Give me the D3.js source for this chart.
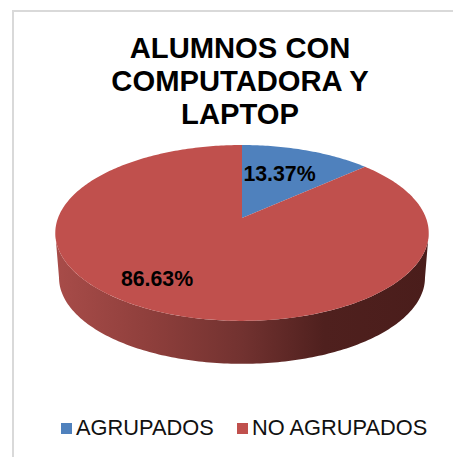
<!DOCTYPE html>
<html>
<head>
<meta charset="utf-8">
<script src="https://cdn.jsdelivr.net/npm/d3@7"></script>
<style>
  html, body { margin: 0; padding: 0; background: #fff; }
  svg { display: block; }
  text { font-family: "Liberation Sans", Arial, sans-serif; }
</style>
</head>
<body>
<div id="chart"></div>
<script>
//chart values
const categories = ["AGRUPADOS", "NO AGRUPADOS"];
const values = [13.37, 86.63];
const colours = ["#4f81bd", "#c0504d"];
const titleLines = ["ALUMNOS CON", "COMPUTADORA Y", "LAPTOP"];

const width = 453;
const height = 457;

//pie geometry, the far side of the disc is squeezed by the perspective
const cx = 242;
const cy = 218;
const radiusX = 184;
const radiusY = 85.4;
const persp = 0.17;
const depth = 45;
const lowerScale = 0.98; //the lower rim is a bit narrower than the top one

const svg = d3.select("#chart").append("svg")
    .attr("width", width)
    .attr("height", height)
    .attr("viewBox", [0, 0, width, height]);

//chart frame, runs off the right and bottom of the picture
svg.append("path")
    .attr("d", `M13,${height}V11H${width}`)
    .attr("fill", "none")
    .attr("stroke", "#d9d9d9")
    .attr("stroke-width", 2);

//angle 0 is at the back of the disc, going clockwise
function project(a, dy = 0, k = 1) {
    const z = Math.cos(a);
    const s = 1 + persp * z;
    return [cx + k * radiusX * Math.sin(a) / s, cy + dy - k * radiusY * z / s];
}

function sampleArc(a0, a1, dy = 0, k = 1) {
    const n = Math.max(2, Math.ceil((a1 - a0) * 60));
    return d3.range(n + 1).map(i => project(a0 + (a1 - a0) * i / n, dy, k));
}

const line = d3.line();
const pie = d3.pie().sort(null).value(d => d);
const slices = pie(values);

//side wall gradient
const defs = svg.append("defs");
const grad = defs.append("linearGradient")
    .attr("id", "wall")
    .attr("gradientUnits", "userSpaceOnUse")
    .attr("x1", 55).attr("x2", 429)
    .attr("y1", 0).attr("y2", 0);
grad.selectAll("stop")
    .data([[0, "#a84c49"], [0.25, "#8f3f3c"], [0.5, "#723230"], [0.72, "#4f201e"], [1, "#4a1d1b"]])
    .join("stop")
    .attr("offset", d => d[0])
    .attr("stop-color", d => d[1]);

//the wall is the front half of the rim, from the widest point on the right to the widest on the left
const widest = Math.acos(-persp);
const front = sampleArc(widest, 2 * Math.PI - widest);
const frontLow = sampleArc(widest, 2 * Math.PI - widest, depth, lowerScale).reverse();
svg.append("path")
    .attr("d", line(front.concat(frontLow)) + "Z")
    .attr("fill", "url(#wall)");

//top of the disc
svg.append("g")
    .selectAll("path")
    .data(slices)
    .join("path")
    .attr("fill", (d, i) => colours[i])
    .attr("d", d => line([[cx, cy]].concat(sampleArc(d.startAngle, d.endAngle))) + "Z");

//title
svg.append("g")
    .attr("text-anchor", "middle")
    .attr("font-size", 29.2)
    .attr("font-weight", "bold")
    .attr("fill", "#000")
    .selectAll("text")
    .data(titleLines)
    .join("text")
    .attr("x", 240)
    .attr("y", (d, i) => 58 + i * 33)
    .text(d => d);

//data labels
const labelPos = [[279.5, 181], [157, 286]];
svg.append("g")
    .attr("text-anchor", "middle")
    .attr("font-size", 21.3)
    .attr("font-weight", "bold")
    .attr("fill", "#000")
    .selectAll("text")
    .data(values)
    .join("text")
    .attr("x", (d, i) => labelPos[i][0])
    .attr("y", (d, i) => labelPos[i][1])
    .text(d => d3.format(".2f")(d) + "%");

//legend
const legendX = [61, 237];
const legend = svg.append("g")
    .selectAll("g")
    .data(categories)
    .join("g")
    .attr("transform", (d, i) => `translate(${legendX[i]},0)`);
legend.append("rect")
    .attr("y", 423)
    .attr("width", 11)
    .attr("height", 11)
    .attr("fill", (d, i) => colours[i]);
legend.append("text")
    .attr("x", 15)
    .attr("y", 434.5)
    .attr("font-size", 21.8)
    .attr("fill", "#111")
    .text(d => d);
</script>
</body>
</html>
